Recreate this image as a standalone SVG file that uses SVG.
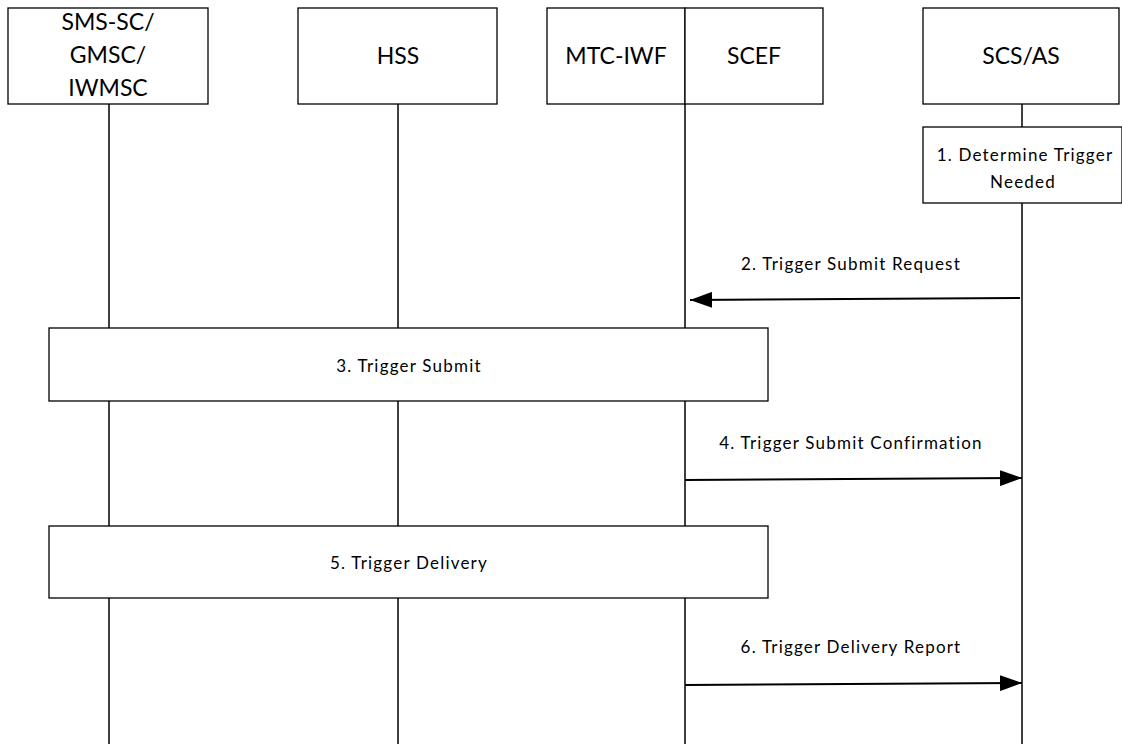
<svg xmlns="http://www.w3.org/2000/svg" width="1122" height="744" viewBox="0 0 1122 744">
<style>
.box{fill:#fff;stroke:#000;stroke-width:1.3}
.life{stroke:#000;stroke-width:1.5;fill:none}
.msg{stroke:#000;stroke-width:2;fill:none}
.hdr{font-family:Lato,"Open Sans",sans-serif;font-size:23px;fill:#000;text-anchor:middle}
.lbl{font-family:Lato,"Open Sans",sans-serif;font-size:17px;fill:#000;text-anchor:middle;letter-spacing:1.2px}
</style>
<defs>
<marker id="ah" viewBox="0 0 22 16" refX="22" refY="8" markerWidth="22" markerHeight="16" markerUnits="userSpaceOnUse" orient="auto">
<path d="M0,0 L22,8 L0,16 Z" fill="#000"/>
</marker>
</defs>
<rect width="1122" height="744" fill="#fff"/>
<g id="lifelines">
<line class="life" x1="109" y1="104" x2="109" y2="744"/>
<line class="life" x1="398" y1="104" x2="398" y2="744"/>
<line class="life" x1="685" y1="104" x2="685" y2="744"/>
<line class="life" x1="1022" y1="104" x2="1022" y2="744"/>
</g>
<g id="sms">
<rect class="box" x="8" y="8" width="200" height="96"/>
<text class="hdr" x="108" y="30">SMS-SC/</text>
<text class="hdr" x="108" y="63">GMSC/</text>
<text class="hdr" x="108" y="96">IWMSC</text>
</g>
<g id="hss">
<rect class="box" x="298" y="8" width="199" height="96"/>
<text class="hdr" x="398" y="64">HSS</text>
</g>
<g id="mtciwf">
<rect class="box" x="547" y="8" width="138" height="96"/>
<text class="hdr" x="616" y="64">MTC-IWF</text>
</g>
<g id="scef">
<rect class="box" x="685" y="8" width="138" height="96"/>
<text class="hdr" x="754" y="64">SCEF</text>
</g>
<g id="scsas">
<rect class="box" x="923" y="8" width="196" height="96"/>
<text class="hdr" x="1021" y="64">SCS/AS</text>
</g>
<g id="step1">
<rect class="box" x="923" y="127" width="199" height="76"/>
<text class="lbl" x="1025" y="161">1. Determine Trigger</text>
<text class="lbl" x="1023" y="188">Needed</text>
</g>
<g id="step3">
<rect class="box" x="49" y="328" width="719" height="73"/>
<text class="lbl" x="409" y="372">3. Trigger Submit</text>
</g>
<g id="step5">
<rect class="box" x="49" y="526" width="719" height="72"/>
<text class="lbl" x="409" y="569">5. Trigger Delivery</text>
</g>
<g id="connectors">
<line class="msg" x1="1020" y1="298" x2="690" y2="300" marker-end="url(#ah)"/>
<text class="lbl" x="851" y="270">2. Trigger Submit Request</text>
<line class="msg" x1="685" y1="480" x2="1022" y2="478" marker-end="url(#ah)"/>
<text class="lbl" x="851" y="449">4. Trigger Submit Confirmation</text>
<line class="msg" x1="685" y1="685" x2="1022" y2="683" marker-end="url(#ah)"/>
<text class="lbl" x="851" y="653">6. Trigger Delivery Report</text>
</g>
</svg>
